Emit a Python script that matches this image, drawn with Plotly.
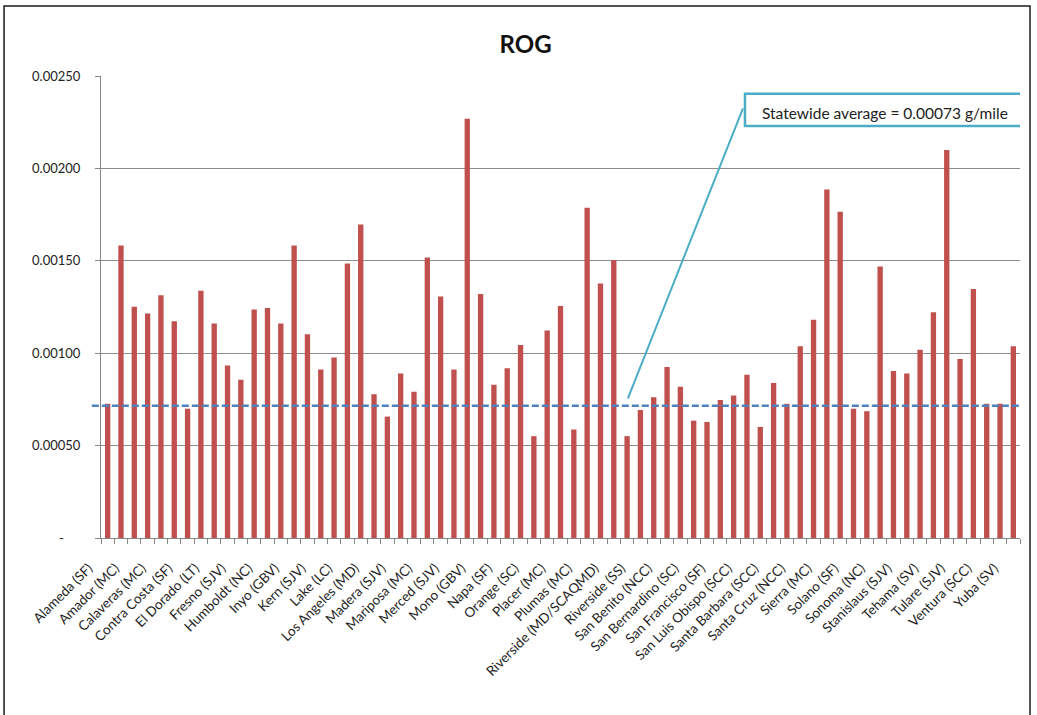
import plotly.graph_objects as go

# ---------------- data ----------------
counties = [
    "Alameda (SF)", "Alpine (MC)", "Amador (MC)", "Butte (SV)", "Calaveras (MC)",
    "Colusa (SV)", "Contra Costa (SF)", "Del Norte (NC)", "El Dorado (LT)", "El Dorado (MC)",
    "Fresno (SJV)", "Glenn (SV)", "Humboldt (NC)", "Imperial (SS)", "Inyo (GBV)",
    "Kern (MD)", "Kern (SJV)", "Kings (SJV)", "Lake (LC)", "Lassen (NEP)",
    "Los Angeles (MD)", "Los Angeles (SC)", "Madera (SJV)", "Marin (SF)", "Mariposa (MC)",
    "Mendocino (NC)", "Merced (SJV)", "Modoc (NEP)", "Mono (GBV)", "Monterey (NCC)",
    "Napa (SF)", "Nevada (MC)", "Orange (SC)", "Placer (LT)", "Placer (MC)",
    "Placer (SV)", "Plumas (MC)", "Riverside (MD/MDAQMD)", "Riverside (MD/SCAQMD)", "Riverside (SC)",
    "Riverside (SS)", "Sacramento (SV)", "San Benito (NCC)", "San Bernardino (MD)", "San Bernardino (SC)",
    "San Diego (SD)", "San Francisco (SF)", "San Joaquin (SJV)", "San Luis Obispo (SCC)", "San Mateo (SF)",
    "Santa Barbara (SCC)", "Santa Clara (SF)", "Santa Cruz (NCC)", "Shasta (SV)", "Sierra (MC)",
    "Siskiyou (NEP)", "Solano (SF)", "Solano (SV)", "Sonoma (NC)", "Sonoma (SF)",
    "Stanislaus (SJV)", "Sutter (SV)", "Tehama (SV)", "Trinity (NC)", "Tulare (SJV)",
    "Tuolumne (MC)", "Ventura (SCC)", "Yolo (SV)", "Yuba (SV)",
]

rog_g_per_mile = [
    0.000727, 0.001583, 0.001251, 0.001215, 0.001314,
    0.001173, 0.000700, 0.001338, 0.001161, 0.000933,
    0.000857, 0.001236, 0.001244, 0.001161, 0.001583,
    0.001103, 0.000912, 0.000977, 0.001486, 0.001697,
    0.000778, 0.000657, 0.000890, 0.000791, 0.001518,
    0.001307, 0.000912, 0.002269, 0.001321, 0.000829,
    0.000919, 0.001045, 0.000551, 0.001123, 0.001256,
    0.000587, 0.001787, 0.001377, 0.001505, 0.000551,
    0.000693, 0.000762, 0.000926, 0.000818, 0.000635,
    0.000628, 0.000747, 0.000771, 0.000883, 0.000601,
    0.000839, 0.000727, 0.001038, 0.001181, 0.001886,
    0.001765, 0.000700, 0.000686, 0.001469, 0.000904,
    0.000890, 0.001018, 0.001222, 0.002099, 0.000968,
    0.001348, 0.000727, 0.000727, 0.001038,
]

ytick_vals = [0, 0.0005, 0.0010, 0.0015, 0.0020, 0.0025]
ytick_text = ["-", "0.00050", "0.00100", "0.00150", "0.00200", "0.00250"]

statewide_avg_level = 0.000715   # where the dashed line sits in the picture
callout_text = "Statewide average = 0.00073 g/mile"
chart_title = "ROG"

# ---------------- styling ----------------
FONT = "Lato"
BAR_RED = "#C0504D"
AXIS_GRAY = "#868686"
AVG_BLUE = "#4F81BD"
CALLOUT = "#4BACC6"

ytext = [t + "\u00a0" * 5 if t == "-" else t for t in ytick_text]

fig = go.Figure()
fig.add_trace(go.Bar(
    x=counties, y=rog_g_per_mile,
    marker=dict(color=BAR_RED, line=dict(width=0)),
    showlegend=False, hoverinfo="x+y",
))

n = len(counties)
fig.update_layout(
    width=1037, height=715,
    margin=dict(l=101, r=17, t=76, b=177),
    paper_bgcolor="white", plot_bgcolor="white",
    font=dict(family=FONT, color="#222222"),
    bargap=0.6,
    title=dict(text="<b>" + chart_title + "</b>", font=dict(family=FONT, size=24, color="#111111"),
               xref="paper", x=0.462, xanchor="center",
               yref="container", y=1 - 45 / 715, yanchor="middle"),
    xaxis=dict(
        type="category", range=[-0.5, n - 0.5],
        tickmode="linear", tick0=0, dtick=1, ticklabelstep=2,
        tickson="boundaries", ticks="outside", ticklen=5, tickcolor=AXIS_GRAY, tickwidth=1,
        tickangle=-45, tickfont=dict(family=FONT, size=13.5, color="#1E1E1E"),
        ticklabelshift=-19, ticklabelstandoff=16,
        showline=True, linecolor=AXIS_GRAY, linewidth=1,
        showgrid=False, zeroline=False, fixedrange=True,
    ),
    yaxis=dict(
        range=[0, 0.0025], tickmode="array", tickvals=ytick_vals, ticktext=ytext,
        ticks="outside", ticklen=5, tickcolor=AXIS_GRAY, tickwidth=1,
        ticklabelstandoff=12,
        tickfont=dict(family=FONT, size=13, color="#222222"),
        showline=True, linecolor=AXIS_GRAY, linewidth=1,
        showgrid=True, gridcolor="#8C8C8C", gridwidth=1, zeroline=False, fixedrange=True,
    ),
)

# statewide average dashed line
fig.add_shape(type="line", xref="paper", yref="y", x0=-0.01, x1=1.002,
              y0=statewide_avg_level, y1=statewide_avg_level,
              line=dict(color=AVG_BLUE, width=2.5, dash="7px,3px"), layer="above")

# callout leader line and box
fig.add_shape(type="line", xref="x", yref="y", x0=39.06, y0=0.000756, x1=47.7, y1=0.002325,
              line=dict(color=CALLOUT, width=2), layer="above")
fig.add_shape(type="rect", xref="x", yref="y", x0=47.85, x1=68.94, y0=0.002229, y1=0.002404,
              fillcolor="white", line=dict(color=CALLOUT, width=2.5), layer="above")
fig.add_annotation(x=(47.85 + 68.94) / 2, y=0.002300, xref="x", yref="y",
                   text=callout_text, showarrow=False,
                   font=dict(family=FONT, size=15.5, color="#222222"),
                   xanchor="center", yanchor="middle")

# outer chart border
fig.add_shape(type="rect", xref="paper", yref="paper", x0=-0.1055, x1=1.0109, y0=-0.6, y1=1.1515,
              line=dict(color="#1A1A1A", width=1.5), fillcolor="rgba(0,0,0,0)", layer="above")

fig.write_html(
    "out.html",
    config={"displayModeBar": False},
    post_script="document.body.style.margin='0';document.body.style.overflow='hidden';",
)
